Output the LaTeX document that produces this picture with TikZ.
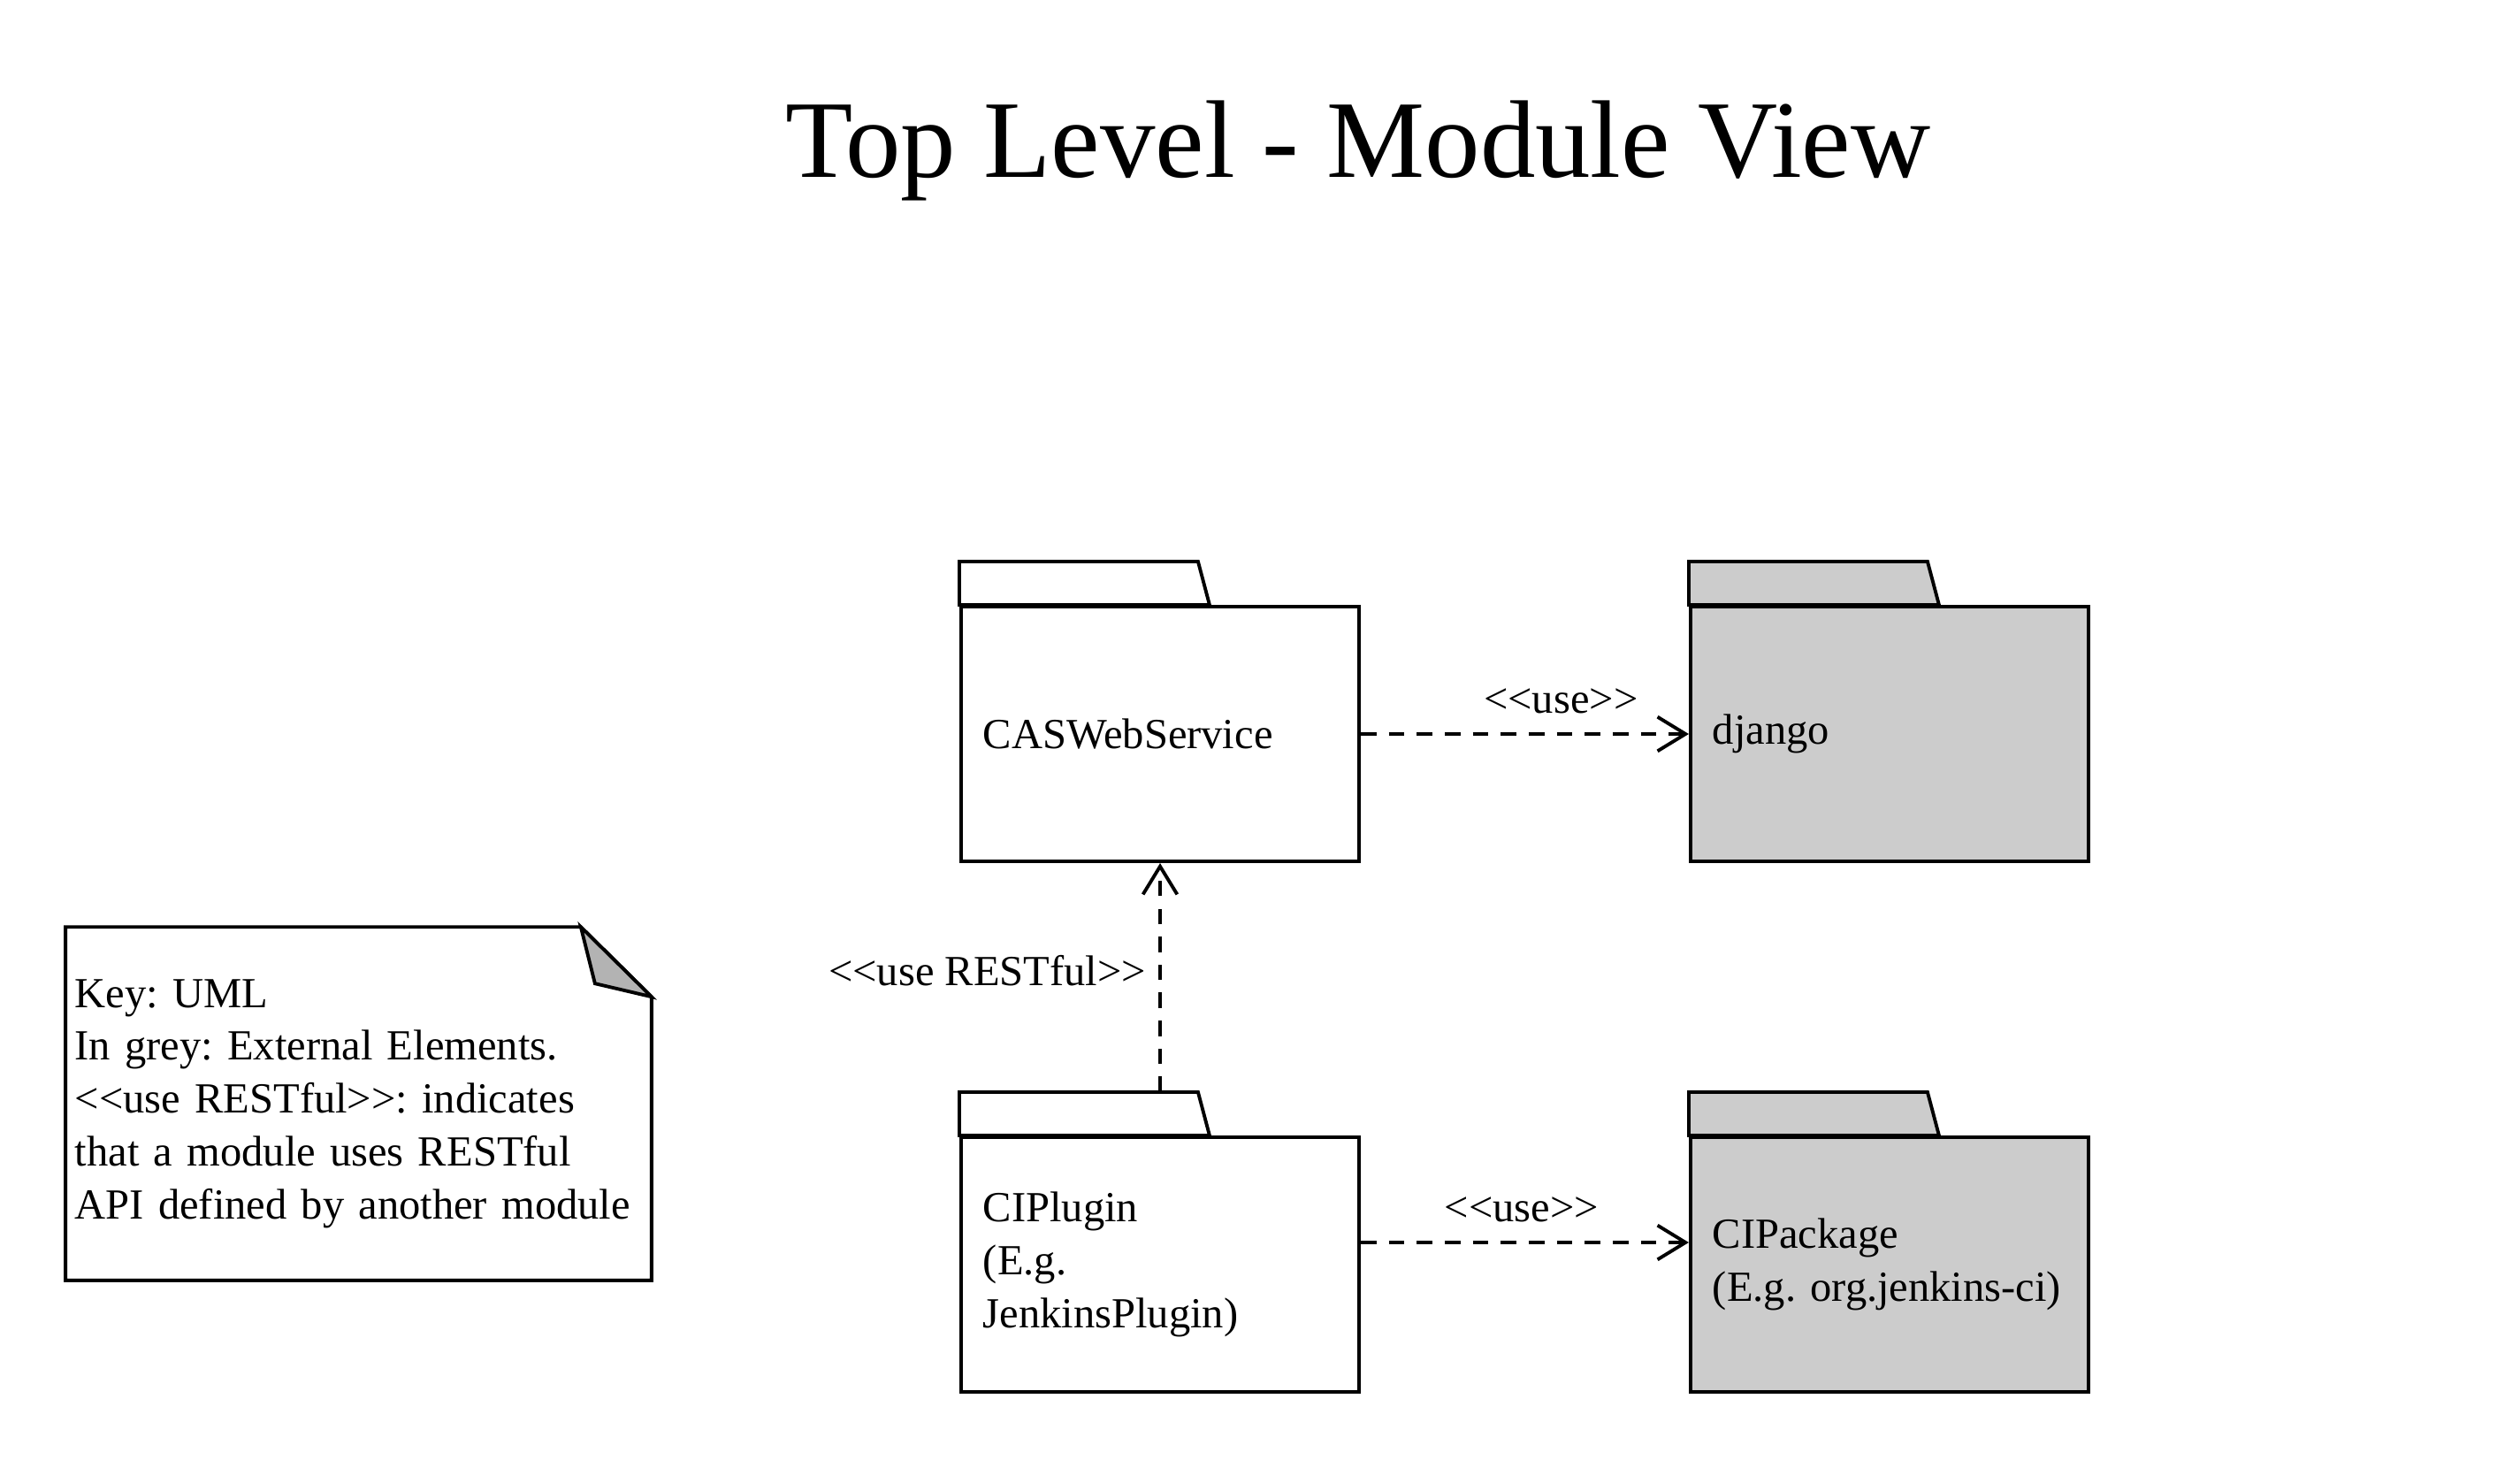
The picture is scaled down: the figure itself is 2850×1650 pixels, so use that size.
\documentclass[tikz,border=0pt]{standalone}
\usepackage{fontspec}
\setmainfont{Liberation Serif}[Ligatures=TeXOff]
\usetikzlibrary{arrows.meta,calc}
\definecolor{extgrey}{HTML}{CCCCCC}
\definecolor{foldgrey}{HTML}{B3B3B3}
\frenchspacing
\tikzset{
  pkg/.style={draw,line width=1.1pt,minimum width=4.5cm,minimum height=2.88cm,
    text width=4.0cm,inner xsep=0.25cm,align=left,font=\fontsize{13.8}{17}\selectfont},
  usearrow/.style={dash pattern=on 5pt off 4pt,line width=1.1pt,
    -{Straight Barb[length=9pt,width=11pt]}},
  lbl/.style={font=\fontsize{13.8}{17}\selectfont,inner sep=2pt}
}
\begin{document}
\begin{tikzpicture}[x=0.01cm,y=-0.01cm]
\useasboundingbox (0,0) rectangle (2850,1650);
\node[font=\fontsize{35.5}{42}\selectfont] (title) at (1536,170) {Top Level - Module View};

% packages
\node[pkg] (cas) at (1312,830) {CASWebService};
\node[pkg,fill=extgrey] (dj) at (2137,830) {django};
\node[pkg] (cip) at (1312,1430) {CIPlugin\\(E.g.\\JenkinsPlugin)};
\node[pkg,fill=extgrey] (cipk) at (2137,1430) {CIPackage\\\mbox{(E.g. org.jenkins-ci)}};
\foreach \n/\c in {cas/white,dj/extgrey,cip/white,cipk/extgrey}
  \draw[line width=1.1pt,fill=\c] (\n.north west) -- ++(0,-49) -- ++(270,0)
    -- ($(\n.north west)+(283,0)$) -- cycle;
\coordinate (cip top) at ($(cip.north)+(0,-49)$);

% dependencies
\draw[usearrow] (cas.east) -- (dj.west) node[lbl,pos=.61,above=4pt] {<<use>>};
\draw[usearrow] ([yshift=0.25cm]cip.east) -- ([yshift=0.25cm]cipk.west)
  node[lbl,pos=.49,above=4pt] {<<use>>};
\draw[usearrow] (cip top) -- (cas.south) node[lbl,pos=.53,left=2pt] {<<use RESTful>>};

% key
\node[text width=6.41cm,inner xsep=0.1cm,minimum height=3.98cm,align=left,
  font=\fontsize{13.8}{17}\selectfont] (key) at (405.5,1248)
  {Key: UML\\In grey: External Elements.\\<<use RESTful>>: indicates\\that a module uses RESTful\\API defined by another module};
\draw[line width=1.1pt] (key.south west) -- (key.north west) -- ($(key.north east)+(-80,0)$)
  -- ($(key.north east)+(0,79)$) -- (key.south east) -- cycle;
\draw[line width=1.1pt,fill=foldgrey] ($(key.north east)+(-80,0)$) -- ($(key.north east)+(-64,64)$)
  -- ($(key.north east)+(0,79)$) -- cycle;
\end{tikzpicture}
\end{document}
